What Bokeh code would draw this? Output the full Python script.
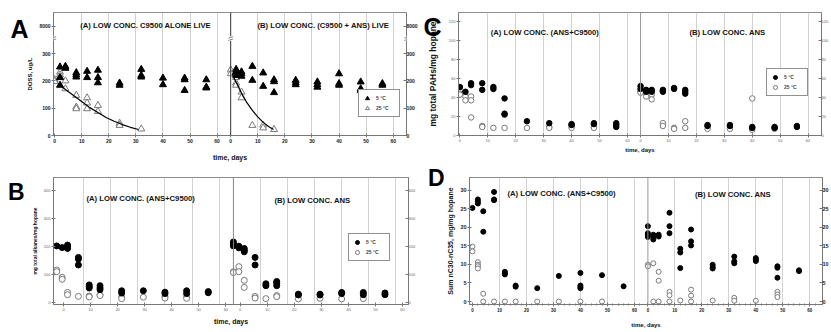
from bokeh.plotting import figure
from bokeh.layouts import column, row
from bokeh.models import FixedTicker, LinearAxis, Span, Label, Legend, LegendItem, Range1d
from bokeh.embed import file_html
from bokeh.resources import INLINE
import math

FONT = "Liberation Sans"

# sampling days (common to all panels)
DAYS = [0, 2, 4, 8, 12, 16, 24, 32, 40, 48, 56]
X_TICKS = [0, 10, 20, 30, 40, 50, 60]
X_GRID = [10, 20, 30, 40, 50, 60]

# ---------------- Panel A : DOSS, ug/L ----------------
A_LEFT_TITLE = "(A) LOW CONC. C9500 ALONE LIVE"
A_RIGHT_TITLE = "(B) LOW CONC. (C9500 + ANS) LIVE"
A_LEFT_5C = [[], [251, 212, 184], [253, 246], [230, 222, 214], [235, 212], [239, 212, 193],
             [192, 184], [242, 220, 214], [210, 186], [210, 204, 165], [204, 177, 174]]
A_LEFT_25C = [[205, 198], [232, 222, 212], [200, 171], [147, 104, 98], [138, 119, 98], [110, 88],
              [45, 37], [24], [], [], []]
A_LEFT_FIT_DAY = [2, 4, 7, 10, 13, 16, 19, 22, 25, 28, 31]
A_LEFT_FIT_VAL = [184, 168, 146, 124, 102, 84, 66, 52, 40, 30, 22]
A_RIGHT_5C = [[], [242, 232, 220], [233, 226, 217], [253, 202], [229, 180], [204, 197, 157],
              [202, 193, 186], [196, 186, 177], [226, 190, 184], [196, 171, 165], [190, 184]]
A_RIGHT_25C = [[240, 226], [212, 192, 184], [159, 138], [37], [38, 28], [22], [], [], [], [], []]
A_RIGHT_FIT_DAY = [0.5, 2, 4, 6, 8, 10, 12, 14, 15.8]
A_RIGHT_FIT_VAL = [226, 195, 155, 120, 92, 68, 48, 33, 22]
A_Y_TICKS = [0, 100, 200, 300, 400]
A_Y_LABELS = ["0", "100", "200", "300", "8000"]

# ---------------- Panel C : mg total PAHs / mg hopane ----------------
C_LEFT_TITLE = "(A) LOW CONC. (ANS+C9500)"
C_RIGHT_TITLE = "(B) LOW CONC. ANS"
C_LEFT_5C = [[51], [46], [55, 53], [55, 48], [51, 49], [39, 23, 22], [15], [13], [12, 11], [13, 12], [13, 11, 9]]
C_LEFT_25C = [[47, 44, 43], [43, 41, 37], [41, 37, 19], [10, 9], [8], [8], [8], [9, 8], [10, 8], [9, 8], []]
C_RIGHT_5C = [[52, 49], [48, 46], [48, 46], [48, 47, 46], [50, 49], [48, 46, 44], [11, 10], [11, 10],
              [9, 8], [9, 8], [10, 9]]
C_RIGHT_25C = [[47, 46, 45], [43, 41], [43, 38], [13, 10], [8, 7], [15, 8], [7], [7], [39, 6], [7], []]
C_Y_TICKS = [0, 20, 40, 60, 80, 100, 120]

# ---------------- Panel B : mg total alkanes / mg hopane ----------------
B_LEFT_TITLE = "(A) LOW CONC. (ANS+C9500)"
B_RIGHT_TITLE = "(B) LOW CONC. ANS"
B_LEFT_5C = [[201], [195], [204, 198, 192], [160, 154, 133], [62, 56, 51], [59, 51, 45], [41, 33], [41],
             [36, 31], [41, 31], [38, 34]]
B_LEFT_25C = [[115, 109], [89, 82], [35, 27], [21], [22, 19], [27, 24], [19, 13], [18], [21, 15], [19, 14], []]
B_RIGHT_5C = [[215, 207, 201], [200, 194], [192, 186, 180], [160, 133], [66, 59], [74, 68, 59], [29, 26],
              [29, 26], [35, 31], [35, 27], [33, 27]]
B_RIGHT_25C = [[109, 106], [127, 109], [78, 53], [21, 15], [13], [24, 20], [12], [14], [12], [13], []]
B_Y_TICKS = [0, 100, 200, 300, 400]

# ---------------- Panel D : Sum nC30-nC35, mg/mg hopane ----------------
D_LEFT_TITLE = "(A) LOW CONC. (ANS+C9500)"
D_RIGHT_TITLE = "(B) LOW CONC. ANS"
D_LEFT_5C = [[25.2], [27.5, 26.9, 26.4], [24.3, 18.8], [29.5, 27.5, 27.3], [8.0, 7.6, 7.3], [4.3, 4.0],
             [3.6], [6.9], [7.7, 4.3, 3.9, 3.6], [7.1], [4.1]]
D_LEFT_25C = [[14.8, 13.5], [10.6, 9.9, 9.5, 8.9], [2.1, 0], [0], [0], [0], [0], [0], [0], [0], []]
D_RIGHT_5C = [[20.3, 18.4, 18.0, 17.4], [18.0, 17.5, 16.7], [18.0, 17.5], [23.9, 20.3, 18.4],
              [14.2, 13.2, 9.0], [19.4, 16.2, 15.1], [9.9, 9.3, 8.9], [12.1, 10.8, 10.3],
              [11.7, 11.3, 10.9], [9.5, 9.1, 6.4], [8.4, 8.2]]
D_RIGHT_25C = [[9.9, 9.5], [10.3, 0], [8.0, 5.6, 0], [2.6, 1.7, 0], [0.3], [3.2, 1.6, 0], [0.3],
               [1.0, 0.2], [0.2], [2.6, 1.9, 1.2], []]
D_Y_TICKS = [0, 5, 10, 15, 20, 25, 30]


def flat(groups, offset=0.0):
    xs, ys = [], []
    for d, vals in zip(DAYS, groups):
        for v in vals:
            xs.append(d + offset)
            ys.append(v)
    return xs, ys


def style_axis(ax, size, color, bold, tick_in=2, tick_out=2):
    ax.major_label_text_font = FONT
    ax.major_label_text_font_size = size
    ax.major_label_text_color = color
    ax.major_label_text_font_style = "bold" if bold else "normal"
    ax.axis_line_color = "#777777"
    ax.major_tick_line_color = "#777777"
    ax.major_tick_in = tick_in
    ax.major_tick_out = tick_out
    ax.minor_tick_line_color = None
    ax.major_label_standoff = 1
    ax.axis_label_text_font = FONT
    ax.axis_label_text_font_style = "bold"
    ax.axis_label_text_color = "#111111"


def build(w, h, xr, yr, off, borders, y_ticks, y_labels, y_title, y_title_size, x_title_size,
          tick_size, tick_color, tick_bold, x_shift=0.0, div_color="#666666", minor=None,
          x_title_standoff=6, y_title_standoff=3):
    bl, br, bt, bb = borders
    p = figure(width=w, height=h, x_range=Range1d(*xr), y_range=Range1d(*yr),
               output_backend="svg", toolbar_location=None,
               min_border_left=bl, min_border_right=br, min_border_top=bt, min_border_bottom=bb)
    p.outline_line_color = "#8c8c8c"
    p.border_fill_color = "white"
    ticks = [t + x_shift for t in X_TICKS] + [t + off + x_shift for t in X_TICKS]
    over = {}
    for t in X_TICKS:
        over[t + x_shift] = str(t)
        over[t + off + x_shift] = str(t)
    p.xaxis.ticker = FixedTicker(ticks=ticks, minor_ticks=minor or [])
    p.xaxis.major_label_overrides = over
    style_axis(p.xaxis[0], tick_size[1], tick_color, tick_bold)
    if minor:
        p.xaxis.minor_tick_line_color = "#777777"
        p.xaxis.minor_tick_in = 1
        p.xaxis.minor_tick_out = 1
    p.xaxis.axis_label = "time, days"
    p.xaxis.axis_label_text_font_size = x_title_size
    p.xaxis.axis_label_standoff = x_title_standoff
    p.xgrid.ticker = FixedTicker(ticks=X_GRID + [g + off for g in X_GRID])
    p.xgrid.grid_line_color = "#d2d2d2"
    p.ygrid.grid_line_color = None
    yover = dict(zip(y_ticks, y_labels))
    p.yaxis.ticker = FixedTicker(ticks=y_ticks)
    p.yaxis.major_label_overrides = yover
    style_axis(p.yaxis[0], tick_size[0], tick_color, tick_bold)
    p.yaxis.axis_label = y_title
    p.yaxis.axis_label_text_font_size = y_title_size
    p.yaxis.axis_label_standoff = y_title_standoff
    ra = LinearAxis(ticker=FixedTicker(ticks=y_ticks), major_label_overrides=yover)
    style_axis(ra, tick_size[0], tick_color, tick_bold, tick_in=3, tick_out=0)
    ra.major_label_standoff = 0
    p.add_layout(ra, "right")
    p.add_layout(Span(location=off, dimension="height", line_color=div_color, line_width=1))
    return p


def add_letter(p, txt, size, standoff, drop):
    # panel letter drawn as a horizontal label of an empty outer axis, aligned to its top end;
    # an empty first line (height `drop` x font size) moves the letter down
    label = txt if drop <= 0 else "\n" + txt
    ax = LinearAxis(ticker=FixedTicker(ticks=[]), axis_label=label, axis_label_orientation="horizontal",
                    axis_label_standoff=standoff, axis_line_color=None, major_tick_line_color=None,
                    minor_tick_line_color=None, major_label_text_alpha=0.0,
                    axis_label_text_font=FONT, axis_label_text_font_size=size,
                    axis_label_text_font_style="bold", axis_label_text_color="black")
    if drop > 0:
        ax.axis_label_text_line_height = drop
    try:
        ax.axis_label_align = "end"
    except Exception:
        pass
    p.add_layout(ax, "left")


def add_points(p, l5, r5, l25, r25, off, marker, size, open_color):
    xa, ya = flat(l25)
    xb, yb = flat(r25, off)
    g25 = p.scatter(xa + xb, ya + yb, marker=marker, size=size, fill_color="white",
                    line_color=open_color, line_width=1)
    xa, ya = flat(l5)
    xb, yb = flat(r5, off)
    g5 = p.scatter(xa + xb, ya + yb, marker=marker, size=size, fill_color="black", line_color="black")
    return g5, g25


def add_legend(p, g5, g25, loc):
    leg = Legend(items=[LegendItem(label="5 \u00b0C", renderers=[g5]),
                        LegendItem(label="25 \u00b0C", renderers=[g25])],
                 location=loc, border_line_color="#222222", border_line_width=1,
                 background_fill_color="white", background_fill_alpha=1.0,
                 label_text_font=FONT, label_text_font_size="5px", label_text_font_style="bold",
                 glyph_width=10, glyph_height=10, label_height=10, spacing=-2, padding=3,
                 margin=0, label_standoff=4)
    p.add_layout(leg)


def add_titles(p, items, size="7.7px"):
    for (x, y, txt) in items:
        p.add_layout(Label(x=x, y=y, text=txt, text_align="center", text_baseline="middle",
                           text_font=FONT, text_font_size=size, text_font_style="bold",
                           text_color="#111111"))


# ---------- A ----------
A_OFF = 65.0
pA = build(420, 166, (-0.4, 129.9), (0, 450), A_OFF, (53, 13, 12, 31), A_Y_TICKS, A_Y_LABELS,
           "DOSS, ug/L", "6px", "7px", ("5px", "5px"), "#222222", True, div_color="#333333",
           x_title_standoff=8)
g5, g25 = add_points(pA, A_LEFT_5C, A_RIGHT_5C, A_LEFT_25C, A_RIGHT_25C, A_OFF, "triangle", 7, "#7a7a7a")
pA.line(A_LEFT_FIT_DAY, A_LEFT_FIT_VAL, line_color="black", line_width=1.2)
pA.line([d + A_OFF for d in A_RIGHT_FIT_DAY], A_RIGHT_FIT_VAL, line_color="black", line_width=1.2)
add_legend(pA, g5, g25, (305, 18))
add_titles(pA, [(33.6, 402, A_LEFT_TITLE), (A_OFF + 34.2, 402, A_RIGHT_TITLE)])
for bx in (-0.4, A_OFF, 129.9):
    pA.add_layout(Label(x=bx, y=355, text="\\\\", angle=math.pi / 2, text_align="center",
                        text_baseline="middle", text_font=FONT, text_font_size="8px",
                        text_color="#555555", background_fill_color="white"))
add_letter(pA, "A", "25px", -4, 1.15)

# ---------- C ----------
C_OFF = 64.7
pC = build(411, 166, (-0.5, 129.5), (0, 129.4), C_OFF, (32, 9, 7, 29), C_Y_TICKS,
           [str(t) for t in C_Y_TICKS], "mg total PAHs/mg hopane", "8.5px", "6px", ("4px", "4px"),
           "#666666", False, div_color="#999999", x_title_standoff=2, y_title_standoff=8)
g5, g25 = add_points(pC, C_LEFT_5C, C_RIGHT_5C, C_LEFT_25C, C_RIGHT_25C, C_OFF, "circle", 5.5, "#7a7a7a")
add_legend(pC, g5, g25, (308, 39))
add_titles(pC, [(30.4, 108.7, C_LEFT_TITLE), (C_OFF + 31.1, 108.7, C_RIGHT_TITLE)])
add_letter(pC, "C", "25px", -17, 1.05)

# ---------- B ----------
B_OFF = 65.3
pB = build(424, 166, (-1.2, 130.0), (-8, 445), B_OFF, (53, 16, 11, 27), B_Y_TICKS,
           [str(t) for t in B_Y_TICKS], "mg total alkanes/mg hopane", "5px", "7px", ("4px", "4px"),
           "#666666", False, x_shift=2.5, div_color="#888888", x_title_standoff=4)
g5, g25 = add_points(pB, B_LEFT_5C, B_RIGHT_5C, B_LEFT_25C, B_RIGHT_25C, B_OFF, "circle", 6, "#7a7a7a")
add_legend(pB, g5, g25, (295, 43))
add_titles(pB, [(31.0, 370, B_LEFT_TITLE), (B_OFF + 29.2, 363, B_RIGHT_TITLE)])
add_letter(pB, "B", "23px", 4, 1.1)

# ---------- D ----------
D_OFF = 65.0
D_MINOR = [m for m in range(0, 64, 2)] + [m + D_OFF for m in range(0, 64, 2)]
pD = build(407, 166, (-1.1, 129.7), (-0.8, 33.4), D_OFF, (39, 9, 6, 28), D_Y_TICKS,
           [str(t) for t in D_Y_TICKS], "Sum nC30-nC35, mg/mg hopane", "7px", "6px", ("5.5px", "4.5px"),
           "#222222", True, div_color="#999999", minor=D_MINOR, x_title_standoff=7)
add_points(pD, D_LEFT_5C, D_RIGHT_5C, D_LEFT_25C, D_RIGHT_25C, D_OFF, "circle", 5, "#7a7a7a")
add_titles(pD, [(33.0, 29.1, D_LEFT_TITLE), (D_OFF + 31.5, 28.8, D_RIGHT_TITLE)])
add_letter(pD, "D", "23px", 0, 0)

layout = column(row(pA, pC), row(pB, pD))
open("out.html", "w").write(file_html(layout, INLINE))
